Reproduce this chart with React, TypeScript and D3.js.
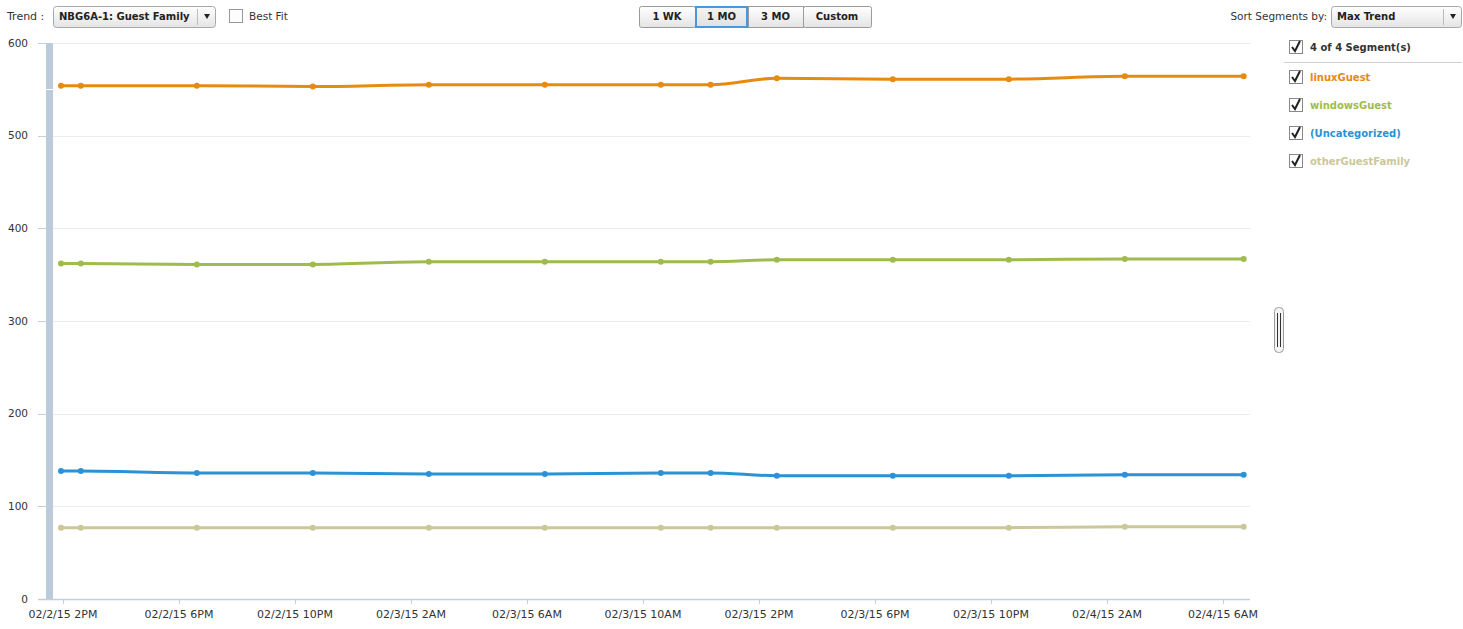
import React, { useRef, useEffect } from 'react';
import * as d3 from 'd3';

// sample times
const sampleTimes = [
  '2015-02-02T13:56', '2015-02-02T14:37', '2015-02-02T18:37', '2015-02-02T22:37',
  '2015-02-03T02:37', '2015-02-03T06:37', '2015-02-03T10:37', '2015-02-03T12:20',
  '2015-02-03T14:37', '2015-02-03T18:37', '2015-02-03T22:37', '2015-02-04T02:37',
  '2015-02-04T06:43',
];

const linuxGuest = [554, 554, 554, 553, 555, 555, 555, 555, 562, 561, 561, 564, 564];
const windowsGuest = [362, 362, 361, 361, 364, 364, 364, 364, 366, 366, 366, 367, 367];
const uncategorized = [138, 138, 136, 136, 135, 135, 136, 136, 133, 133, 133, 134, 134];
const otherGuestFamily = [77, 77, 77, 77, 77, 77, 77, 77, 77, 77, 77, 78, 78];

const seriesNames = ['linuxGuest', 'windowsGuest', '(Uncategorized)', 'otherGuestFamily'];
const seriesColors = ['#e68a10', '#9fbb4c', '#2b92d6', '#cbc798'];

const yTicks = [0, 100, 200, 300, 400, 500, 600];
const xTickTimes = [
  '2015-02-02T14:00', '2015-02-02T18:00', '2015-02-02T22:00', '2015-02-03T02:00',
  '2015-02-03T06:00', '2015-02-03T10:00', '2015-02-03T14:00', '2015-02-03T18:00',
  '2015-02-03T22:00', '2015-02-04T02:00', '2015-02-04T06:00',
];
const rangeButtons = ['1 WK', '1 MO', '3 MO', 'Custom'];

const W = 1463;
const H = 629;
const FONT = '"DejaVu Sans", Verdana, sans-serif';

const App: React.FC = () => {
  const svgRef = useRef<SVGSVGElement>(null);

  useEffect(() => {
    if (!svgRef.current) return;
    const svg = d3.select(svgRef.current);
    svg.selectAll('*').remove();

    const parse = d3.timeParse('%Y-%m-%dT%H:%M');
    const times = sampleTimes.map(t => parse(t) as Date);

    const plot = { left: 47, right: 1250, top: 43, bottom: 599 };

    const x = d3.scaleTime()
      .domain([parse('2015-02-02T13:27') as Date, parse('2015-02-04T06:56') as Date])
      .range([plot.left, plot.right]);
    const y = d3.scaleLinear().domain([0, 600]).range([plot.bottom, plot.top]);

    const defs = svg.append('defs');
    const grad = defs.append('linearGradient').attr('id', 'btn').attr('x1', 0).attr('x2', 0).attr('y1', 0).attr('y2', 1);
    grad.append('stop').attr('offset', '0%').attr('stop-color', '#ffffff');
    grad.append('stop').attr('offset', '100%').attr('stop-color', '#e4e4e4');
    const gradSel = defs.append('linearGradient').attr('id', 'btnSel').attr('x1', 0).attr('x2', 0).attr('y1', 0).attr('y2', 1);
    gradSel.append('stop').attr('offset', '0%').attr('stop-color', '#f4f4f4');
    gradSel.append('stop').attr('offset', '100%').attr('stop-color', '#e0e0e0');

    // gridlines
    svg.append('g')
      .selectAll('line')
      .data(yTicks.filter(d => d > 0))
      .enter()
      .append('line')
      .attr('x1', plot.left + 6)
      .attr('x2', plot.right)
      .attr('y1', d => Math.round(y(d)) + 0.5)
      .attr('y2', d => Math.round(y(d)) + 0.5)
      .attr('stroke', '#ececec');

    // y ticks + labels
    const yg = svg.append('g');
    yg.selectAll('line')
      .data(yTicks)
      .enter()
      .append('line')
      .attr('x1', 38)
      .attr('x2', plot.left)
      .attr('y1', d => Math.round(y(d)) + 0.5)
      .attr('y2', d => Math.round(y(d)) + 0.5)
      .attr('stroke', '#c8ced6');
    yg.selectAll('text')
      .data(yTicks)
      .enter()
      .append('text')
      .attr('x', 28)
      .attr('y', d => y(d))
      .attr('dy', '0.35em')
      .attr('text-anchor', 'end')
      .style('font-family', FONT)
      .style('font-size', '10.5px')
      .attr('fill', '#333')
      .text(d => d);

    // left navigator bar
    svg.append('rect')
      .attr('x', plot.left - 1)
      .attr('y', plot.top)
      .attr('width', 7)
      .attr('height', plot.bottom - plot.top)
      .attr('fill', '#bccbdc');
    svg.append('line')
      .attr('x1', plot.left - 1).attr('x2', plot.left + 6)
      .attr('y1', Math.round(y(550)) + 0.5).attr('y2', Math.round(y(550)) + 0.5)
      .attr('stroke', '#fff');

    // x axis
    const xg = svg.append('g');
    xg.append('line')
      .attr('x1', 38)
      .attr('x2', plot.right)
      .attr('y1', plot.bottom + 0.5)
      .attr('y2', plot.bottom + 0.5)
      .attr('stroke', '#c3cedb')
      .attr('stroke-width', 1.5);
    const xt = xTickTimes.map(t => parse(t) as Date);
    xg.selectAll('line.tick')
      .data(xt)
      .enter()
      .append('line')
      .attr('class', 'tick')
      .attr('x1', d => Math.round(x(d)) + 0.5)
      .attr('x2', d => Math.round(x(d)) + 0.5)
      .attr('y1', plot.bottom)
      .attr('y2', plot.bottom + 5)
      .attr('stroke', '#c3cedb');
    const fmt = (d: Date) => {
      const h = d.getHours();
      const hh = h % 12 === 0 ? 12 : h % 12;
      return `02/${d.getDate()}/15 ${hh}${h < 12 ? 'AM' : 'PM'}`;
    };
    xg.selectAll('text')
      .data(xt)
      .enter()
      .append('text')
      .attr('x', d => x(d))
      .attr('y', 614)
      .attr('dy', '0.35em')
      .attr('text-anchor', 'middle')
      .style('font-family', FONT)
      .style('font-size', '11px')
      .attr('fill', '#333')
      .text(d => fmt(d));

    // series lines
    const allSeries = [linuxGuest, windowsGuest, uncategorized, otherGuestFamily];
    const line = d3.line<number>()
      .x((_, i) => x(times[i]))
      .y(d => y(d))
      .curve(d3.curveMonotoneX);
    allSeries.forEach((vals, si) => {
      const g = svg.append('g');
      g.append('path')
        .attr('d', line(vals) || '')
        .attr('fill', 'none')
        .attr('stroke', seriesColors[si])
        .attr('stroke-width', 3);
      g.selectAll('circle')
        .data(vals)
        .enter()
        .append('circle')
        .attr('cx', (_, i) => x(times[i]))
        .attr('cy', d => y(d))
        .attr('r', 3)
        .attr('fill', seriesColors[si]);
    });

    // toolbar: Trend dropdown
    const text = (sel: d3.Selection<SVGSVGElement, unknown, null, undefined>, tx: number, ty: number, s: string, opts: { bold?: boolean; color?: string; size?: number; anchor?: string } = {}) =>
      sel.append('text')
        .attr('x', tx)
        .attr('y', ty)
        .attr('dy', '0.35em')
        .attr('text-anchor', opts.anchor || 'start')
        .style('font-family', FONT)
        .style('font-size', `${opts.size || 10.5}px`)
        .style('font-weight', opts.bold ? 'bold' : 'normal')
        .attr('fill', opts.color || '#333')
        .text(s);

    text(svg, 7, 16.5, 'Trend :', { size: 11 });
    const dropdown = (x0: number, x1: number, label: string) => {
      svg.append('rect')
        .attr('x', x0 + 0.5).attr('y', 6.5).attr('width', x1 - x0).attr('height', 21)
        .attr('rx', 3).attr('fill', 'url(#btn)').attr('stroke', '#a8a8a8');
      svg.append('line')
        .attr('x1', x1 - 17.5).attr('x2', x1 - 17.5).attr('y1', 9).attr('y2', 25)
        .attr('stroke', '#bbb');
      svg.append('path')
        .attr('d', `M${x1 - 11},14 L${x1 - 5},14 L${x1 - 8},19 Z`)
        .attr('fill', '#222');
      text(svg, x0 + 6, 16.5, label, { bold: true, color: '#222', size: 10 });
    };
    dropdown(53, 215, 'NBG6A-1: Guest Family');

    svg.append('rect')
      .attr('x', 229.5).attr('y', 9.5).attr('width', 13).attr('height', 13)
      .attr('fill', '#fdfdfd').attr('stroke', '#999');
    text(svg, 249, 16.5, 'Best Fit', { size: 10.5 });

    // range buttons
    const btnEdges = [639, 695, 748, 803, 871];
    rangeButtons.forEach((b, i) => {
      const x0 = btnEdges[i];
      const x1 = btnEdges[i + 1];
      const sel = b === '1 MO';
      svg.append('rect')
        .attr('x', x0 + 0.5).attr('y', 6.5).attr('width', x1 - x0).attr('height', 21)
        .attr('rx', i === 0 || i === 3 ? 2 : 0)
        .attr('fill', sel ? 'url(#btnSel)' : 'url(#btn)')
        .attr('stroke', '#9a9a9a');
      text(svg, (x0 + x1) / 2, 16.5, b, { bold: true, color: '#222', size: 10, anchor: 'middle' });
    });
    svg.append('rect')
      .attr('x', 696).attr('y', 7).attr('width', 51).attr('height', 20)
      .attr('fill', 'none').attr('stroke', '#4d97d6').attr('stroke-width', 2);

    // sort dropdown
    text(svg, 1327, 16.5, 'Sort Segments by:', { size: 10.5, anchor: 'end' });
    dropdown(1331, 1461, 'Max Trend');

    // legend
    const check = (cx: number, cy: number) => {
      svg.append('rect')
        .attr('x', cx + 0.5).attr('y', cy - 6.5).attr('width', 13).attr('height', 13)
        .attr('fill', '#fff').attr('stroke', '#888');
      svg.append('path')
        .attr('d', `M${cx + 3},${cy} L${cx + 6},${cy + 4} L${cx + 11},${cy - 6}`)
        .attr('fill', 'none').attr('stroke', '#222').attr('stroke-width', 2);
    };
    check(1289, 47);
    text(svg, 1310, 47.5, '4 of 4 Segment(s)', { bold: true, color: '#333', size: 10 });
    svg.append('line')
      .attr('x1', 1284).attr('x2', 1462).attr('y1', 62.5).attr('y2', 62.5)
      .attr('stroke', '#cfcfcf');
    seriesNames.forEach((n, i) => {
      const cy = 77 + i * 28;
      check(1289, cy);
      text(svg, 1310, cy + 0.5, n, { bold: true, color: seriesColors[i], size: 10 });
    });

    // scroll handle
    svg.append('rect')
      .attr('x', 1274.5).attr('y', 307.5).attr('width', 9).attr('height', 45)
      .attr('rx', 4).attr('fill', '#f4f4f4').attr('stroke', '#9a9a9a');
    svg.append('line').attr('x1', 1277.5).attr('x2', 1277.5).attr('y1', 313).attr('y2', 347).attr('stroke', '#333');
    svg.append('line').attr('x1', 1280.5).attr('x2', 1280.5).attr('y1', 313).attr('y2', 347).attr('stroke', '#333');
  }, []);

  return (
    <svg
      ref={svgRef}
      width={W}
      height={H}
      style={{ position: 'absolute', left: 0, top: 0, background: '#fff' }}
    />
  );
};

export default App;
